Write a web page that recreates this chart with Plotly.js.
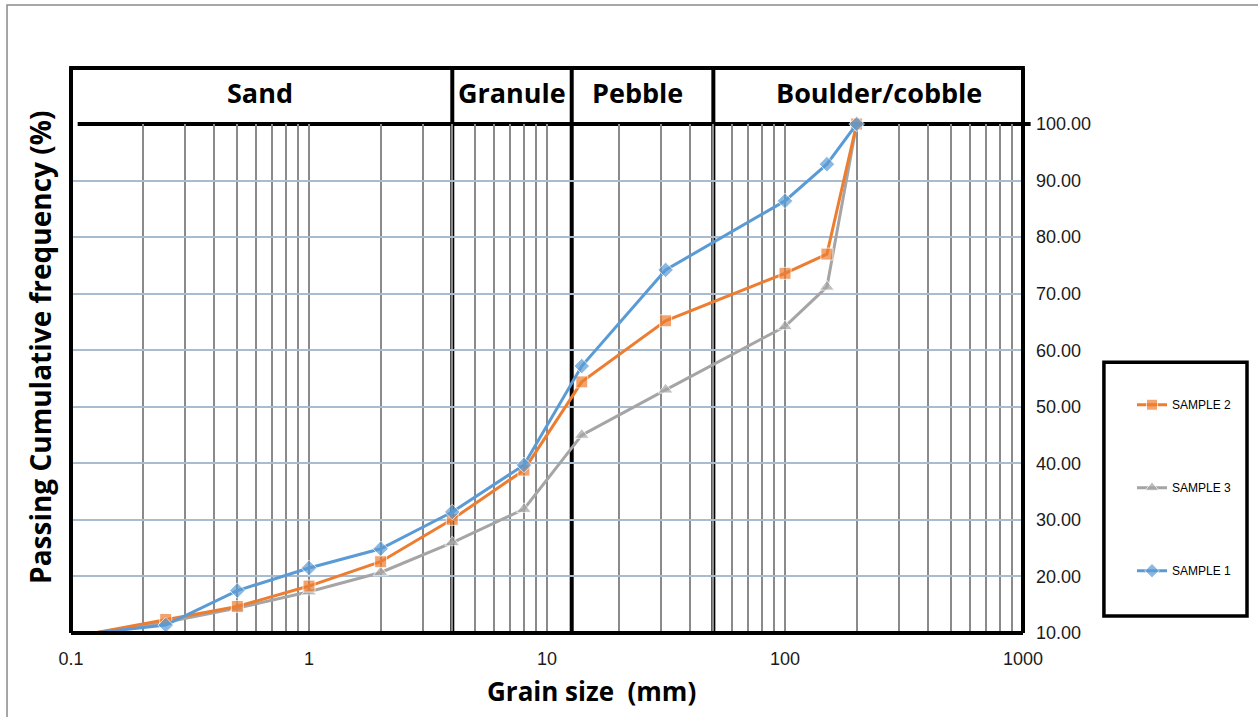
<!DOCTYPE html>
<html>
<head>
<meta charset="utf-8">
<script src="https://cdn.plot.ly/plotly-3.0.1.min.js"></script>
<style>html,body{margin:0;padding:0;background:#fff;}#chart{width:1258px;height:717px;}</style>
</head>
<body>
<div id="chart"></div>
<script>
// ---- data ----
const grainSize = [0.125, 0.25, 0.5, 1, 2, 4, 8, 14, 31.5, 100, 150, 200];
const sample1 = [10, 11.4, 17.5, 21.5, 24.9, 31.4, 39.7, 57.2, 74.2, 86.4, 92.9, 100];
const sample2 = [10, 12.4, 14.7, 18.3, 22.6, 30.1, 38.8, 54.4, 65.2, 73.6, 77.0, 100];
const sample3 = [10, 11.9, 14.4, 17.3, 20.7, 26.0, 31.9, 45.0, 53.0, 64.2, 71.2, 100];
const seriesNames = ['SAMPLE 1', 'SAMPLE 2', 'SAMPLE 3'];
const zoneNames = ['Sand', 'Granule', 'Pebble', 'Boulder/cobble'];
const zoneBounds = [4, 12.7, 50];
const zoneLabelAt = [0.62, 7.1, 23.9, 248];
const xMajorTicks = [0.1, 1, 10, 100, 1000];
const xMajorLabels = ['0.1', '1', '10', '100', '1000'];
const yTicks = [10, 20, 30, 40, 50, 60, 70, 80, 90, 100];

// ---- build ----
const markerSizes = (s) => grainSize.map((v, i) => i === 0 ? 0 : s);

const tr = (name, y, color, symbol, size, rank) => ({
  type: 'scatter', mode: 'lines+markers', name: name, x: grainSize, y: y,
  line: {color: color, width: 3},
  marker: {color: color, symbol: symbol, size: markerSizes(size)},
  cliponaxis: false, legendgroup: name, legendrank: rank
});

const data = [
  tr(seriesNames[2], sample3, '#a5a5a5', 'triangle-up', 13, 2),
  tr(seriesNames[1], sample2, '#ed7d31', 'square', 12, 1),
  tr(seriesNames[0], sample1, '#5b9bd5', 'diamond', 12, 3)
];

// grid tick positions (every 1..9 per decade)
const gridVals = [];
const gridText = [];
for (let d = 0; d < xMajorTicks.length; d++) {
  const base = xMajorTicks[d];
  const last = d === xMajorTicks.length - 1 ? 1 : 9;
  for (let k = 1; k <= last; k++) {
    gridVals.push(base * k);
    gridText.push(k === 1 ? xMajorLabels[d] : '');
  }
}

const headerTop = 1.11;
const shapes = [];
// outer frame
shapes.push({type: 'rect', xref: 'paper', yref: 'paper', x0: -0.0672, x1: 1.4, y0: -0.4, y1: 1.2338,
  line: {color: '#8a8a8a', width: 1.5}, layer: 'below'});
// zone boundaries inside plot
zoneBounds.forEach(b => {
  shapes.push({type: 'line', xref: 'x', yref: 'paper', x0: b, x1: b, y0: 0, y1: 1,
    line: {color: '#000', width: 4}, layer: 'between'});
  shapes.push({type: 'line', xref: 'x', yref: 'paper', x0: b, x1: b, y0: 1, y1: headerTop,
    line: {color: '#000', width: 4}, layer: 'above'});
});
// left, right, bottom borders and header
shapes.push({type: 'line', xref: 'paper', yref: 'paper', x0: 0, x1: 0, y0: 0, y1: headerTop, line: {color: '#000', width: 4}});
shapes.push({type: 'line', xref: 'paper', yref: 'paper', x0: 1, x1: 1, y0: 0, y1: headerTop, line: {color: '#000', width: 4}});
shapes.push({type: 'line', xref: 'paper', yref: 'paper', x0: 0, x1: 1, y0: 0, y1: 0, line: {color: '#000', width: 4}});
shapes.push({type: 'line', xref: 'paper', yref: 'paper', x0: -0.002, x1: 1.002, y0: headerTop, y1: headerTop, line: {color: '#000', width: 4}});
shapes.push({type: 'line', xref: 'paper', yref: 'paper', x0: 0.007, x1: 1.008, y0: 1, y1: 1, line: {color: '#000', width: 4}, layer: 'between'});
// legend box
shapes.push({type: 'rect', xref: 'paper', yref: 'paper', x0: 1.085, x1: 1.2353, y0: 0.0334, y1: 0.532,
  line: {color: '#000', width: 3.5}, fillcolor: 'rgba(0,0,0,0)'});

const annotations = zoneNames.map((n, i) => ({
  text: n, xref: 'x', yref: 'paper', x: Math.log10(zoneLabelAt[i]), y: 1.061,
  showarrow: false, font: {family: 'Open Sans', size: 27, color: '#000', weight: 'bold'},
  xanchor: 'center', yanchor: 'middle'
}));
annotations.push({text: 'Grain size\u00a0\u00a0(mm)', xref: 'paper', yref: 'paper', x: 0.547, y: -0.114,
  showarrow: false, font: {family: 'Open Sans', size: 26, color: '#000', weight: 'bold'}, xanchor: 'center', yanchor: 'middle'});
annotations.push({text: 'Passing Cumulative frequency (%)', xref: 'paper', yref: 'paper', x: -0.0326, y: 0.562,
  textangle: -90, showarrow: false, font: {family: 'Open Sans', size: 28, color: '#000', weight: 'bold'},
  xanchor: 'center', yanchor: 'middle'});

const layout = {
  width: 1258, height: 717,
  margin: {l: 71, r: 235, t: 124, b: 84},
  paper_bgcolor: '#fff', plot_bgcolor: '#fff',
  font: {family: 'Liberation Sans, Arial, sans-serif', color: '#1a1a1a'},
  xaxis: {type: 'log', range: [-1, 3], tickmode: 'array', tickvals: gridVals, ticktext: gridText,
    showgrid: true, gridcolor: '#8a8a8a', gridwidth: 2, zeroline: false, showline: false,
    ticks: '', tickfont: {size: 18}, ticklabelstandoff: 13},
  yaxis: {range: [10, 100], side: 'right', tickmode: 'array', tickvals: yTicks,
    ticktext: yTicks.map(v => v.toFixed(2)), showgrid: true, gridcolor: '#a9bccf', gridwidth: 2,
    zeroline: false, showline: false, ticks: '', tickfont: {size: 18}, ticklabelstandoff: 12},
  showlegend: true,
  legend: {x: 1.1145, xanchor: 'left', y: 0.477, yanchor: 'top', bgcolor: 'rgba(0,0,0,0)',
    borderwidth: 0, font: {size: 12, color: '#000'}, traceorder: 'grouped', tracegroupgap: 64},
  shapes: shapes,
  annotations: annotations
};

Plotly.newPlot('chart', data, layout, {displayModeBar: false, staticPlot: true});
</script>
</body>
</html>
